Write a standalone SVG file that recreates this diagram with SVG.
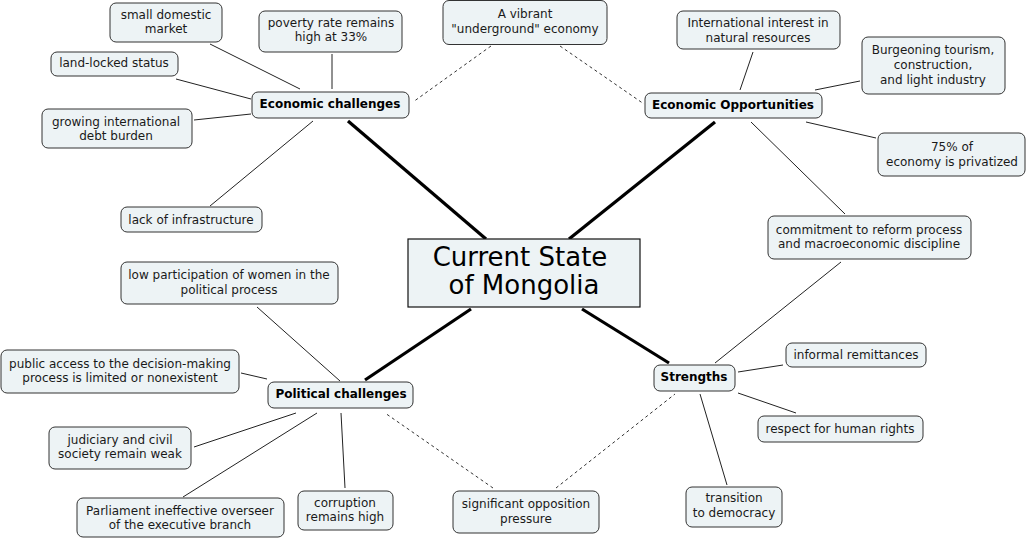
<svg xmlns="http://www.w3.org/2000/svg" width="1027" height="540" viewBox="0 0 1027 540">
<style>
.bg{fill:#ffffff}
.n{fill:#edf3f5;stroke:#333333;stroke-width:1}
.c{fill:#edf3f5;stroke:#111111;stroke-width:1.2}
.t{font-family:"DejaVu Sans",Verdana,sans-serif;font-size:12px;fill:#1a1a1a;text-anchor:middle;dominant-baseline:central}
.b{font-weight:bold;fill:#000}
.big{font-family:"DejaVu Sans",Verdana,sans-serif;font-size:26px;fill:#000;text-anchor:middle;dominant-baseline:central}
.l{stroke:#222;stroke-width:1;fill:none}
.k{stroke:#000;stroke-width:3.2;fill:none}
.d{stroke:#333;stroke-width:1;stroke-dasharray:3,3;fill:none}
</style>
<rect class="bg" x="0" y="0" width="1027" height="540"/>
<g id="connectors">
<line class="k" x1="348" y1="121" x2="486" y2="239"/>
<line class="k" x1="715" y1="122" x2="569" y2="239"/>
<line class="k" x1="471" y1="309" x2="365" y2="380"/>
<line class="k" x1="582" y1="309" x2="669" y2="363"/>
<line class="l" x1="210" y1="44" x2="300" y2="89"/>
<line class="l" x1="332" y1="54" x2="332" y2="89"/>
<line class="l" x1="176" y1="79" x2="251" y2="99"/>
<line class="l" x1="194" y1="120" x2="251" y2="114"/>
<line class="l" x1="210" y1="206" x2="313" y2="121"/>
<line class="d" x1="491" y1="46" x2="413" y2="102"/>
<line class="d" x1="560" y1="46" x2="644" y2="104"/>
<line class="l" x1="753" y1="52" x2="740" y2="90"/>
<line class="l" x1="860" y1="81" x2="815" y2="90"/>
<line class="l" x1="876" y1="138" x2="806" y2="122"/>
<line class="l" x1="845" y1="214" x2="751" y2="122"/>
<line class="l" x1="841" y1="262" x2="715" y2="363"/>
<line class="l" x1="783" y1="365" x2="738" y2="372"/>
<line class="l" x1="796" y1="413" x2="738" y2="393"/>
<line class="l" x1="727" y1="485" x2="700" y2="394"/>
<line class="d" x1="556" y1="488" x2="675" y2="394"/>
<line class="d" x1="493" y1="488" x2="385" y2="413"/>
<line class="l" x1="257" y1="307" x2="340" y2="381"/>
<line class="l" x1="241" y1="373" x2="267" y2="379"/>
<line class="l" x1="194" y1="447" x2="296" y2="413"/>
<line class="l" x1="183" y1="497" x2="317" y2="413"/>
<line class="l" x1="345" y1="488" x2="341" y2="413"/>
</g>
<g id="center"><rect class="c" x="408" y="239" width="232" height="68"/><text class="big" x="520" y="257">Current State</text><text class="big" x="524" y="285">of Mongolia</text></g>
<g id="econ-challenges"><rect class="n" x="252" y="92" width="157" height="26" rx="6"/><text class="t b" x="330" y="104">Economic challenges</text></g>
<g id="small-market"><rect class="n" x="110" y="3" width="112" height="39" rx="6"/><text class="t" x="166" y="15">small domestic</text><text class="t" x="166" y="29">market</text></g>
<g id="poverty"><rect class="n" x="259" y="11" width="143" height="41" rx="6"/><text class="t" x="331" y="23">poverty rate remains</text><text class="t" x="331" y="37">high at 33%</text></g>
<g id="landlocked"><rect class="n" x="51" y="52" width="127" height="24" rx="6"/><text class="t" x="114" y="63">land-locked status</text></g>
<g id="debt"><rect class="n" x="42" y="109" width="150" height="39" rx="6"/><text class="t" x="116" y="122">growing international</text><text class="t" x="116" y="136">debt burden</text></g>
<g id="infrastructure"><rect class="n" x="121" y="207" width="141" height="25" rx="6"/><text class="t" x="191" y="220">lack of infrastructure</text></g>
<g id="underground"><rect class="n" x="443" y="0.5" width="164" height="44" rx="6"/><text class="t" x="525" y="14">A vibrant</text><text class="t" x="525" y="29">"underground" economy</text></g>
<g id="econ-opportunities"><rect class="n" x="645" y="93" width="177" height="25" rx="6"/><text class="t b" x="733" y="105">Economic Opportunities</text></g>
<g id="natural-resources"><rect class="n" x="677" y="11" width="163" height="38" rx="6"/><text class="t" x="758" y="23">International interest in</text><text class="t" x="758" y="38">natural resources</text></g>
<g id="tourism"><rect class="n" x="862" y="37" width="143" height="57" rx="6"/><text class="t" x="933" y="50">Burgeoning tourism,</text><text class="t" x="933" y="65">construction,</text><text class="t" x="933" y="80">and light industry</text></g>
<g id="privatized"><rect class="n" x="878" y="133" width="147" height="43" rx="6"/><text class="t" x="952" y="147">75% of</text><text class="t" x="952" y="162">economy is privatized</text></g>
<g id="reform"><rect class="n" x="768" y="216" width="203" height="43" rx="6"/><text class="t" x="869" y="230">commitment to reform process</text><text class="t" x="869" y="244">and macroeconomic discipline</text></g>
<g id="strengths"><rect class="n" x="654" y="365" width="81" height="26" rx="6"/><text class="t b" x="694" y="377">Strengths</text></g>
<g id="remittances"><rect class="n" x="786" y="343" width="140" height="24" rx="6"/><text class="t" x="856" y="355">informal remittances</text></g>
<g id="human-rights"><rect class="n" x="758" y="416" width="165" height="26" rx="6"/><text class="t" x="840" y="429">respect for human rights</text></g>
<g id="democracy"><rect class="n" x="686" y="487" width="96" height="40" rx="6"/><text class="t" x="734" y="498">transition</text><text class="t" x="734" y="513">to democracy</text></g>
<g id="opposition"><rect class="n" x="453" y="491" width="146" height="42" rx="6"/><text class="t" x="526" y="504">significant opposition</text><text class="t" x="526" y="519">pressure</text></g>
<g id="political"><rect class="n" x="268" y="382" width="145" height="26" rx="6"/><text class="t b" x="341" y="394">Political challenges</text></g>
<g id="women"><rect class="n" x="121" y="262" width="217" height="42" rx="6"/><text class="t" x="229" y="275">low participation of women in the</text><text class="t" x="229" y="290">political process</text></g>
<g id="public-access"><rect class="n" x="1" y="350" width="238" height="43" rx="6"/><text class="t" x="120" y="364">public access to the decision-making</text><text class="t" x="120" y="378">process is limited or nonexistent</text></g>
<g id="judiciary"><rect class="n" x="49" y="427" width="142" height="42" rx="6"/><text class="t" x="120" y="440">judiciary and civil</text><text class="t" x="120" y="454">society remain weak</text></g>
<g id="parliament"><rect class="n" x="77" y="498" width="207" height="39" rx="6"/><text class="t" x="180" y="511">Parliament ineffective overseer</text><text class="t" x="180" y="525">of the executive branch</text></g>
<g id="corruption"><rect class="n" x="298" y="491" width="95" height="39" rx="6"/><text class="t" x="345" y="503">corruption</text><text class="t" x="345" y="517">remains high</text></g>
</svg>
